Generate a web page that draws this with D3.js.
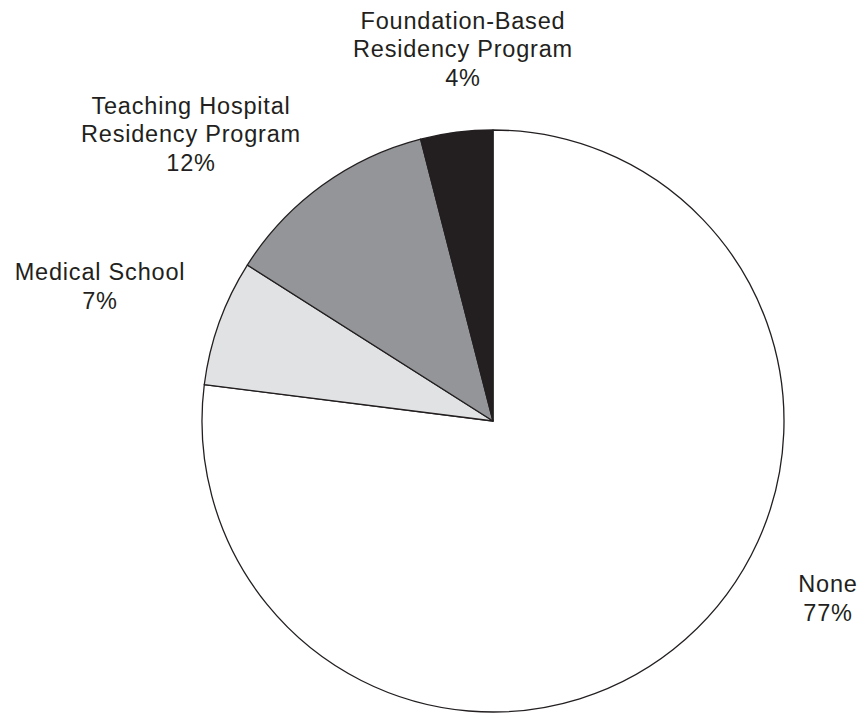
<!DOCTYPE html>
<html>
<head>
<meta charset="utf-8">
<script src="https://cdn.jsdelivr.net/npm/d3@7"></script>
<style>
  html, body { margin: 0; padding: 0; background: #ffffff; }
  svg { display: block; }
  text { font-family: "Liberation Sans", Arial, Helvetica, sans-serif; font-size: 23.5px; letter-spacing: 0.8px; fill: #231f20; }
</style>
</head>
<body>
<svg id="chart" width="861" height="713"></svg>
<script>
// Share of respondents by type of training program
const categories = ["None", "Medical School", "Teaching Hospital Residency Program", "Foundation-Based Residency Program"];
const shares = [77, 7, 12, 4];
const fills = ["#ffffff", "#e1e2e3", "#939598", "#231f20"];

// Label lines for each slice, with its anchor point
const labelLines = [
  ["None", "77%"],
  ["Medical School", "7%"],
  ["Teaching Hospital", "Residency Program", "12%"],
  ["Foundation-Based", "Residency Program", "4%"]
];
const labelAnchors = [[828, 592], [100, 280], [191, 113.5], [463, 28.5]];

const width = 861, height = 713;
const cx = 493, cy = 421, radius = 291;
const lineGap = 28.5;

const svg = d3.select("#chart");

const pie = d3.pie().sort(null).value(d => d.value);
const arc = d3.arc().innerRadius(0).outerRadius(radius);

const data = categories.map((c, i) => ({ name: c, value: shares[i], fill: fills[i] }));

const colour = d3.scaleOrdinal().domain(categories).range(fills);

svg.append("g")
  .attr("transform", `translate(${cx},${cy})`)
  .selectAll("path")
  .data(pie(data))
  .join("path")
  .attr("d", arc)
  .attr("fill", d => colour(d.data.name))
  .attr("stroke", "#231f20")
  .attr("stroke-width", 1.3)
  .attr("stroke-linejoin", "round");

const labels = svg.append("g")
  .selectAll("text")
  .data(data)
  .join("text")
  .attr("text-anchor", "middle")
  .attr("x", (d, i) => labelAnchors[i][0])
  .attr("y", (d, i) => labelAnchors[i][1]);

labels.each(function(d, i) {
  const t = d3.select(this);
  labelLines[i].forEach((line, j) => {
    t.append("tspan")
      .attr("x", labelAnchors[i][0])
      .attr("y", labelAnchors[i][1] + j * lineGap)
      .text(line);
  });
});
</script>
</body>
</html>
